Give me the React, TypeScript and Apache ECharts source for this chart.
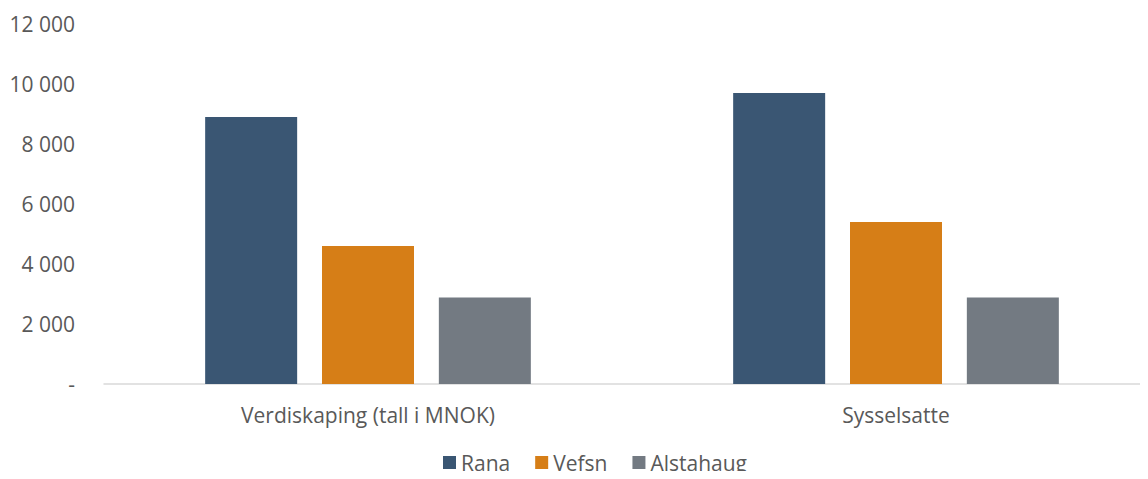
import React, { useEffect, useRef } from "react";
import * as echarts from "echarts";

const categories = ["Verdiskaping (tall i MNOK)", "Sysselsatte"];
const seriesNames = ["Rana", "Vefsn", "Alstahaug"];
const rana = [8900, 9700];
const vefsn = [4600, 5400];
const alstahaug = [2880, 2880];
const colors = ["#3a5673", "#d67e17", "#737a82"];

export default function App() {
  const ref = useRef<HTMLDivElement>(null);
  useEffect(() => {
    if (!ref.current) return;
    const chart = echarts.init(ref.current, null, { renderer: "svg" });
    const font = "'Open Sans', sans-serif";
    const values = [rana, vefsn, alstahaug];
    chart.setOption({
      animation: false,
      textStyle: { fontFamily: font },
      grid: { left: 104, top: 24, bottom: 95, right: 0, containLabel: false },
      legend: {
        top: 452,
        left: 443,
        padding: 0,
        itemWidth: 13,
        itemHeight: 13,
        itemGap: 25,
        itemTextGap: 6,
        icon: "rect",
        textStyle: { color: "#595959", fontSize: 21, fontFamily: font },
        data: seriesNames,
      },
      xAxis: {
        type: "category",
        data: categories,
        axisLine: { lineStyle: { color: "#d9d9d9", width: 1.5 } },
        axisTick: { show: false },
        axisLabel: { color: "#595959", fontSize: 21, fontFamily: font, margin: 20 },
      },
      yAxis: {
        type: "value",
        min: 0,
        max: 12000,
        interval: 2000,
        splitLine: { show: false },
        axisLine: { show: false },
        axisTick: { show: false },
        axisLabel: {
          color: "#595959",
          fontSize: 21,
          fontFamily: font,
          margin: 29,
          formatter: (v: number) =>
            v === 0 ? "-" : String(v).replace(/\B(?=(\d{3})+(?!\d))/g, " "),
        },
      },
      series: seriesNames.map((name, i) => ({
        name,
        type: "bar",
        data: values[i],
        barWidth: 92,
        barGap: "27%",
        itemStyle: { color: colors[i] },
      })),
    });
    return () => chart.dispose();
  }, []);
  return (
    <div style={{ width: 1148, height: 479, margin: -8, overflow: "hidden", position: "relative" }}>
      <div ref={ref} style={{ width: 1160, height: 479 }} />
    </div>
  );
}
